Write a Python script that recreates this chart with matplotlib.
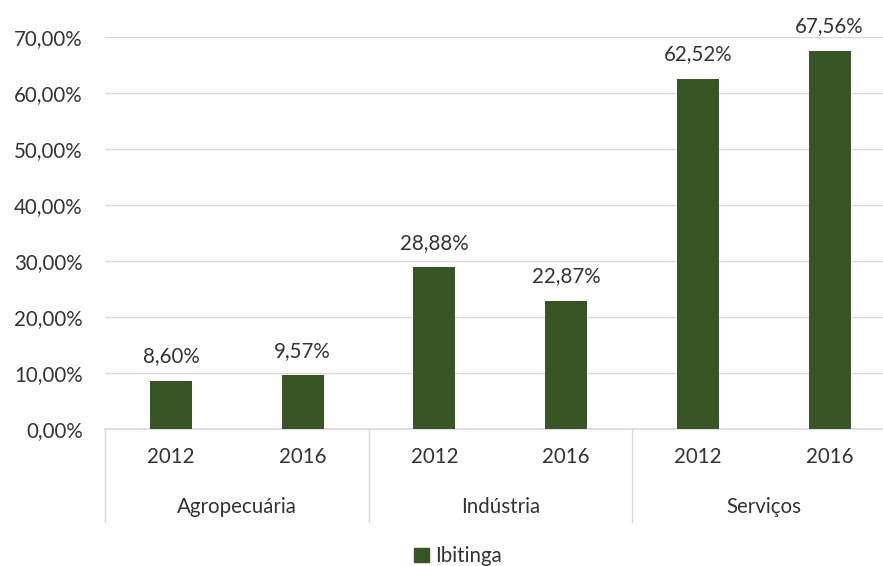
import matplotlib
matplotlib.use("Agg")
import matplotlib.pyplot as plt
import matplotlib.transforms as mtransforms
from matplotlib.patches import Patch

plt.rcParams['font.family'] = ['Lato', 'DejaVu Sans']

categories = ["Agropecuária", "Indústria", "Serviços"]
years = ["2012", "2016"]
values = [8.60, 9.57, 28.88, 22.87, 62.52, 67.56]
series_name = "Ibitinga"

bar_color = "#375623"
text_color = "#333333"
grid_color = "#d9d9d9"
fs = 14.8

W, H = 883, 566
fig = plt.figure(figsize=(W / 100, H / 100), dpi=100)
ax = fig.add_axes([105 / W, (H - 429) / H, (883 - 105) / W, (429 - 37) / H])

x = list(range(len(values)))
ax.bar(x, values, width=0.32, color=bar_color, zorder=3)

ax.set_ylim(0, 70)
ax.set_xlim(-0.5, 5.405)
yt = list(range(0, 71, 10))
ax.set_yticks(yt)
ax.set_yticklabels([f"{v:.2f}%".replace('.', ',') for v in yt], fontsize=fs, color=text_color)
ax.grid(axis='y', color=grid_color, linewidth=1, zorder=0)
ax.tick_params(axis='y', length=0, pad=16)

labels = []
for c in categories:
    for y in years:
        labels.append(y)
ax.set_xticks(x)
ax.set_xticklabels(labels, fontsize=fs, color=text_color)
ax.tick_params(axis='x', length=0, pad=13)

for s in ['top', 'right', 'left']:
    ax.spines[s].set_visible(False)
ax.spines['bottom'].set_color(grid_color)
ax.spines['bottom'].set_linewidth(1.2)

for xi, v in zip(x, values):
    ax.annotate(f"{v:.2f}%".replace('.', ','), (xi, v), xytext=(0, 10.5),
                textcoords='offset points', ha='center', va='bottom',
                fontsize=fs, color=text_color)

trans = mtransforms.blended_transform_factory(ax.transData, ax.transAxes)
n_per = len(years)
for i, c in enumerate(categories):
    center = i * n_per + (n_per - 1) / 2
    ax.text(center, -0.199, c, transform=trans, ha='center', va='center',
            fontsize=fs, color=text_color)
for b in [-0.5, 1.5, 3.5]:
    ax.plot([b, b], [0, -0.237], transform=trans, color=grid_color,
            linewidth=1, clip_on=False)

handle = Patch(facecolor=bar_color, edgecolor=bar_color)
fig.legend([handle], [series_name], loc='center', bbox_to_anchor=(458 / W, 1 - 556 / H),
           frameon=False, fontsize=fs, handlelength=0.7, handleheight=0.7,
           handletextpad=0.3, labelcolor=text_color)

fig.savefig("out.png", dpi=100)
